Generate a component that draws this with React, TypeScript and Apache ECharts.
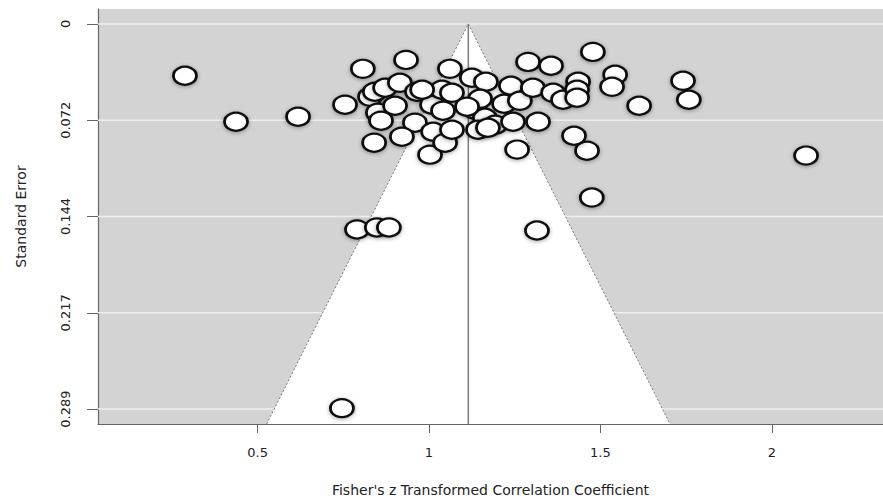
import React, { useEffect, useRef } from "react";
import * as echarts from "echarts";

// Study effect sizes (Fisher's z) and their standard errors
const zValues = [
  0.288, 0.437, 0.618, 0.755, 0.807, 0.933, 0.746, 0.79, 0.848, 0.883,
  1.315, 2.1, 1.478, 1.543, 1.534, 1.613, 1.741, 1.758, 1.475, 1.461,
  1.423, 0.828, 0.842, 0.872, 0.915, 0.965, 0.851, 0.901, 0.86, 0.959,
  0.921, 0.84, 1.003, 1.009, 1.012, 1.038, 1.067, 1.041, 1.047, 1.067,
  0.98, 1.061, 1.125, 1.166, 1.239, 1.134, 1.149, 1.163, 1.193, 1.143,
  1.219, 1.245, 1.265, 1.257, 1.289, 1.356, 1.303, 1.362, 1.391, 1.435,
  1.432, 1.432, 1.318, 1.172, 1.111,
];
const seValues = [
  0.0389, 0.0734, 0.0696, 0.0606, 0.0337, 0.027, 0.2883, 0.1542, 0.1527, 0.1527,
  0.155, 0.0988, 0.021, 0.0382, 0.0472, 0.0614, 0.0427, 0.0569, 0.1303, 0.0951,
  0.0839, 0.0547, 0.0509, 0.0479, 0.0442, 0.0509, 0.0666, 0.0614, 0.0726, 0.0741,
  0.0846, 0.0891, 0.0981, 0.0606, 0.0809, 0.0494, 0.0517, 0.0651, 0.0891, 0.0794,
  0.0494, 0.0337, 0.0404, 0.0434, 0.0464, 0.0644, 0.0562, 0.0704, 0.0756, 0.0794,
  0.0599, 0.0734, 0.0577, 0.0943, 0.0285, 0.0314, 0.0479, 0.0517, 0.0569, 0.0434,
  0.0494, 0.0554, 0.0734, 0.0779, 0.0621,
];

const xTickValues = [0.5, 1, 1.5, 2];
const xTickLabels = ["0.5", "1", "1.5", "2"];
const yTickValues = [0, 0.07225, 0.1445, 0.21675, 0.289];
const yTickLabels = ["0", "0.072", "0.144", "0.217", "0.289"];
const pooledEstimate = [1.1147];
const xRange = [0.0344, 2.3244];
const yRange = [-0.0112, 0.3002];

const FONT = "DejaVu Sans";

export default function App() {
  const ref = useRef<HTMLDivElement>(null);
  useEffect(() => {
    if (!ref.current) return;
    const chart = echarts.init(ref.current, null, { renderer: "svg" });
    const center = pooledEstimate[0];
    const option: any = {
      animation: false,
      backgroundColor: "#ffffff",
      grid: {
        left: 98,
        top: 9,
        right: 0,
        bottom: 77,
        show: true,
        backgroundColor: "#d3d3d3",
        borderWidth: 0,
      },
      xAxis: {
        type: "value",
        min: xRange[0],
        max: xRange[1],
        name: "Fisher's z Transformed Correlation Coefficient",
        nameLocation: "middle",
        nameGap: 59,
        nameTextStyle: { fontFamily: FONT, fontSize: 14, color: "#222" },
        axisLine: { show: true, onZero: false, lineStyle: { color: "#666", width: 1.2 } },
        axisTick: { show: true, length: 9, customValues: xTickValues, lineStyle: { color: "#666" } },
        axisLabel: {
          customValues: xTickValues,
          margin: 22,
          fontFamily: FONT,
          fontSize: 13,
          color: "#222",
          formatter: (v: number) => {
            const i = xTickValues.findIndex((t) => Math.abs(t - v) < 1e-9);
            return i >= 0 ? xTickLabels[i] : "";
          },
        },
        splitLine: { show: false },
      },
      yAxis: {
        type: "value",
        inverse: true,
        min: yRange[0],
        max: yRange[1],
        name: "Standard Error",
        nameLocation: "middle",
        nameGap: 70,
        nameRotate: 90,
        nameTextStyle: { fontFamily: FONT, fontSize: 14, color: "#222" },
        axisLine: { show: true, onZero: false, lineStyle: { color: "#666", width: 1.2 } },
        axisTick: { show: true, length: 11, customValues: yTickValues, lineStyle: { color: "#666" } },
        axisLabel: {
          customValues: yTickValues,
          rotate: 90,
          margin: 26,
          fontFamily: FONT,
          fontSize: 13,
          color: "#222",
          formatter: (v: number) => {
            const i = yTickValues.findIndex((t) => Math.abs(t - v) < 1e-9);
            return i >= 0 ? yTickLabels[i] : "";
          },
        },
        splitLine: { show: false },
      },
      series: [
        {
          type: "custom",
          silent: true,
          clip: true,
          z: 1,
          data: [[center, 0]],
          renderItem: (_params: any, api: any) => {
            const bottom = yRange[1];
            const children: any[] = [];
            yTickValues.forEach((v) => {
              const a = api.coord([xRange[0], v]);
              const b = api.coord([xRange[1], v]);
              children.push({
                type: "line",
                shape: { x1: a[0], y1: a[1], x2: b[0], y2: b[1] },
                style: { stroke: "#eeeeee", lineWidth: 1.5 },
              });
            });
            const apex = api.coord([center, 0]);
            const bl = api.coord([center - 1.96 * bottom, bottom]);
            const br = api.coord([center + 1.96 * bottom, bottom]);
            children.push({
              type: "polygon",
              shape: { points: [bl, apex, br] },
              style: { fill: "#ffffff" },
            });
            children.push({
              type: "polyline",
              shape: { points: [bl, apex, br] },
              style: { stroke: "#777", lineWidth: 1, lineDash: [2, 2], fill: null },
            });
            children.push({
              type: "line",
              shape: { x1: apex[0], y1: apex[1], x2: bl[0] + (br[0] - bl[0]) / 2, y2: bl[1] },
              style: { stroke: "#7a7a7a", lineWidth: 1.5 },
            });
            return { type: "group", children };
          },
        },
        {
          type: "scatter",
          z: 3,
          symbol: "circle",
          symbolSize: [23, 18],
          data: zValues.map((z, i) => [z, seValues[i]]),
          itemStyle: {
            color: "#ffffff",
            borderColor: "#111111",
            borderWidth: 2.5,
            opacity: 1,
            shadowBlur: 4,
            shadowColor: "rgba(0,0,0,0.35)",
            shadowOffsetY: 1,
          },
          emphasis: { disabled: true },
        },
      ],
    };
    chart.setOption(option);
    return () => chart.dispose();
  }, []);
  return (
    <div
      ref={ref}
      style={{ position: "absolute", left: 0, top: 0, width: 883, height: 502 }}
    />
  );
}
